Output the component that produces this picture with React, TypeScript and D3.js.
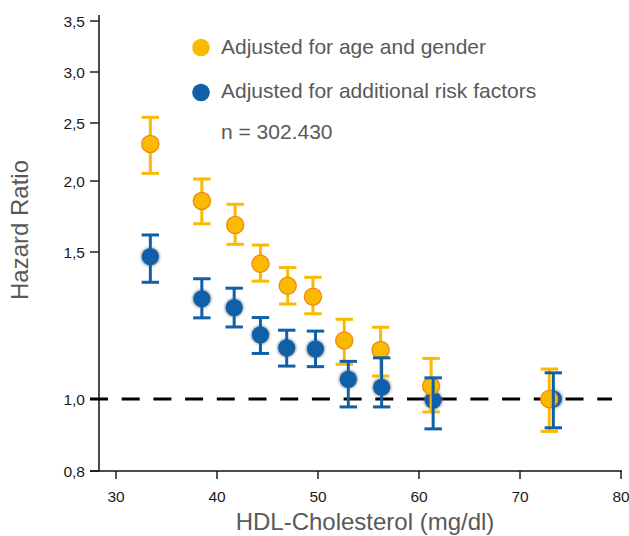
import React from "react";
import * as d3 from "d3";

// HDL-cholesterol group means (x) for each series
const hdlAge = [33.4, 38.5, 41.8, 44.3, 47.0, 49.5, 52.6, 56.2, 61.2, 72.9];
const hdlRisk = [33.4, 38.5, 41.7, 44.3, 46.9, 49.75, 53.0, 56.3, 61.4, 73.3];

// Adjusted for age and gender
const hrAge = [2.32, 1.86, 1.69, 1.46, 1.385, 1.348, 1.199, 1.167, 1.044, 1.0];
const hrAgeLow = [2.066, 1.699, 1.554, 1.401, 1.323, 1.29, 1.118, 1.078, 0.964, 0.91];
const hrAgeHigh = [2.556, 2.017, 1.836, 1.549, 1.447, 1.414, 1.271, 1.244, 1.138, 1.102];

// Adjusted for additional risk factors
const hrRisk = [1.484, 1.341, 1.311, 1.218, 1.174, 1.17, 1.067, 1.04, 0.997, 1.0];
const hrRiskLow = [1.397, 1.276, 1.245, 1.155, 1.112, 1.11, 0.978, 0.978, 0.917, 0.92];
const hrRiskHigh = [1.62, 1.409, 1.377, 1.277, 1.234, 1.231, 1.128, 1.14, 1.072, 1.089];

const yTicks = [0.8, 1.0, 1.5, 2.0, 2.5, 3.0, 3.5];
const xTicks = [30, 40, 50, 60, 70, 80];
const legendLabels = ["Adjusted for age and gender", "Adjusted for additional risk factors"];
const nLabel = "n = 302.430";
const xTitle = "HDL-Cholesterol (mg/dl)";
const yTitle = "Hazard Ratio";

const ORANGE = "#FBBA00";
const ORANGE_STROKE = "#EC8A14";
const BLUE = "#0F5FA9";
const GREY = "#595959";

const x = d3.scaleLinear().domain([30, 80]).range([116, 621]);
// hand-drawn (non-uniform) vertical axis, reproduced piecewise
const y = d3.scaleLinear().domain(yTicks).range([471, 399, 252, 181, 123, 72, 21]);

const locale = d3.formatLocale({ decimal: ",", thousands: ".", grouping: [3], currency: ["", "€"] });
const fmt = locale.format(".1f");

function ErrorBars({ xs, lows, highs, color }: { xs: number[]; lows: number[]; highs: number[]; color: string }) {
  const cap = 8.7;
  return (
    <g stroke={color} strokeWidth={3} fill="none">
      {xs.map((v, i) => {
        const cx = x(v);
        const y1 = y(highs[i]);
        const y2 = y(lows[i]);
        return (
          <g key={i}>
            <line x1={cx} x2={cx} y1={y1} y2={y2} />
            <line x1={cx - cap} x2={cx + cap} y1={y1} y2={y1} />
            <line x1={cx - cap} x2={cx + cap} y1={y2} y2={y2} />
          </g>
        );
      })}
    </g>
  );
}

export default function App() {
  const font = "'Liberation Sans', Arial, sans-serif";
  return (
    <svg width={629} height={536} style={{ position: "absolute", left: 0, top: 0, background: "#fff" }} fontFamily={font}>
      <defs>
        <filter id="halo" x="-50%" y="-50%" width="200%" height="200%">
          <feGaussianBlur stdDeviation="1.3" />
        </filter>
      </defs>

      {/* axes */}
      <line x1={99} x2={99} y1={15} y2={471} stroke="#111" strokeWidth={1.5} />
      <line x1={90} x2={622} y1={471} y2={471} stroke="#111" strokeWidth={1.5} />
      {yTicks.map((t) => (
        <g key={t}>
          <line x1={90} x2={99} y1={y(t)} y2={y(t)} stroke="#111" strokeWidth={1.4} />
          <text x={85} y={y(t)} dy="0.36em" textAnchor="end" fontSize={15.5} fill="#1a1a1a">
            {fmt(t)}
          </text>
        </g>
      ))}
      {xTicks.map((t) => (
        <g key={t}>
          <line x1={x(t)} x2={x(t)} y1={471} y2={479} stroke="#111" strokeWidth={1.4} />
          <text x={x(t)} y={502} textAnchor="middle" fontSize={15.5} fill="#1a1a1a">
            {t}
          </text>
        </g>
      ))}

      {/* reference line HR = 1 */}
      <line x1={90} x2={612} y1={y(1)} y2={y(1)} stroke="#000" strokeWidth={3} strokeDasharray="18 13.7" />

      {/* titles */}
      <text x={365} y={530} textAnchor="middle" fontSize={24} fill={GREY}>
        {xTitle}
      </text>
      <text transform={`translate(28,230) rotate(-90)`} textAnchor="middle" fontSize={24} fill={GREY}>
        {yTitle}
      </text>

      {/* blue circles (behind) */}
      <g>
        {hdlRisk.map((v, i) => (
          <g key={i}>
            <circle cx={x(v)} cy={y(hrRisk[i])} r={9.8} fill="#777" opacity={0.6} filter="url(#halo)" />
            <circle cx={x(v)} cy={y(hrRisk[i])} r={8.6} fill={BLUE} />
          </g>
        ))}
      </g>

      {/* orange series */}
      <ErrorBars xs={hdlAge} lows={hrAgeLow} highs={hrAgeHigh} color={ORANGE} />
      <g>
        {hdlAge.map((v, i) => (
          <circle key={i} cx={x(v)} cy={y(hrAge[i])} r={8.6} fill={ORANGE} stroke={ORANGE_STROKE} strokeWidth={1.3} />
        ))}
      </g>

      {/* blue error bars */}
      <ErrorBars xs={hdlRisk} lows={hrRiskLow} highs={hrRiskHigh} color={BLUE} />

      {/* legend */}
      <circle cx={201} cy={47.5} r={8.8} fill={ORANGE} />
      <text x={221} y={53.5} fontSize={21} fill={GREY}>
        {legendLabels[0]}
      </text>
      <circle cx={201} cy={92.5} r={8.8} fill={BLUE} />
      <text x={221} y={98} fontSize={21} fill={GREY}>
        {legendLabels[1]}
      </text>
      <text x={221} y={139} fontSize={21} fill={GREY}>
        {nLabel}
      </text>
    </svg>
  );
}
